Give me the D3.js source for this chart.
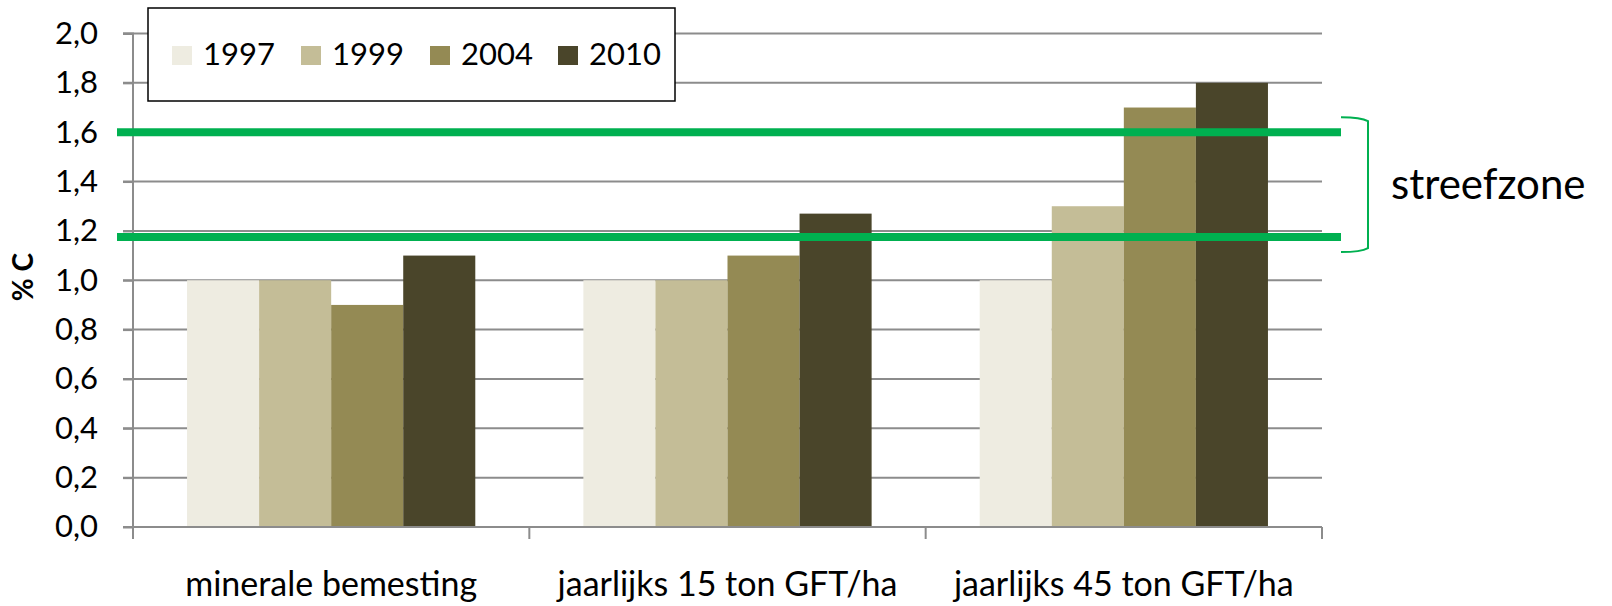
<!DOCTYPE html>
<html>
<head>
<meta charset="utf-8">
<script src="https://cdn.jsdelivr.net/npm/d3@7"></script>
<style>
  body { margin: 0; background: #fff; }
  text { font-family: Lato, "Open Sans", sans-serif; fill: #000; }
</style>
</head>
<body>
<div id="chart"></div>
<script>
// data
var categories = ['minerale bemesting', 'jaarlijks 15 ton GFT/ha', 'jaarlijks 45 ton GFT/ha'];
var years = ['1997', '1999', '2004', '2010'];
var v1997 = [1.0, 1.0, 1.0];
var v1999 = [1.0, 1.0, 1.3];
var v2004 = [0.9, 1.1, 1.7];
var v2010 = [1.1, 1.27, 1.8];
var yTicks = [0, 0.2, 0.4, 0.6, 0.8, 1.0, 1.2, 1.4, 1.6, 1.8, 2.0];
var zoneLow = 1.175, zoneHigh = 1.6;
var colors = ['#eeece1', '#c4bd97', '#948a54', '#4a452a'];

var series = [v1997, v1999, v2004, v2010];
var rows = [];
categories.forEach(function(c, i) {
    years.forEach(function(yr, j) {
        rows.push({cat: c, year: yr, value: series[j][i]});
    });
});

var svg = d3.select('#chart').append('svg')
    .attr('width', 1612)
    .attr('height', 606);

var x = d3.scaleBand().domain(categories).range([133, 1322]);
var xs = d3.scaleBand().domain(years).range([0, x.bandwidth()]).paddingOuter(0.75);
var y = d3.scaleLinear().domain([0, 2]).range([527, 33.5]);
var color = d3.scaleOrdinal().domain(years).range(colors);

// gridlines
svg.append('g')
    .selectAll('line')
    .data(yTicks.filter(function(d) { return d > 0; }))
    .enter().append('line')
    .attr('x1', 123).attr('x2', 1322)
    .attr('y1', function(d) { return y(d); })
    .attr('y2', function(d) { return y(d); })
    .attr('stroke', '#8c8c8c')
    .attr('stroke-width', 2);

// bars
svg.append('g')
    .selectAll('rect')
    .data(rows)
    .enter().append('rect')
    .attr('x', function(d) { return x(d.cat) + xs(d.year); })
    .attr('width', xs.bandwidth())
    .attr('y', function(d) { return y(d.value); })
    .attr('height', function(d) { return y(0) - y(d.value); })
    .attr('fill', function(d) { return color(d.year); });

// y axis
var yAxis = d3.axisLeft(y)
    .tickValues(yTicks)
    .tickSize(10)
    .tickPadding(25)
    .tickFormat(function(d) { return d3.format('.1f')(d).replace('.', ','); });
var gy = svg.append('g').attr('transform', 'translate(133,0)').call(yAxis);
gy.select('.domain').attr('stroke', '#8c8c8c').attr('stroke-width', 2)
    .attr('d', 'M-10,33.5H0V539');
gy.selectAll('.tick line').attr('stroke', '#8c8c8c').attr('stroke-width', 2);
gy.selectAll('.tick text').style('font-size', '31px').attr('fill', '#000')
    .style('font-family', 'Lato, sans-serif');

// x axis
var xAxis = d3.axisBottom(x).tickSize(0).tickPadding(45);
var gx = svg.append('g').attr('transform', 'translate(0,527)').call(xAxis);
gx.select('.domain').attr('stroke', '#8c8c8c').attr('stroke-width', 2)
    .attr('d', 'M123,0H1322');
gx.selectAll('.tick text').style('font-size', '34px').attr('fill', '#000')
    .style('font-family', 'Lato, sans-serif');
// category separators
gx.append('g').selectAll('line')
    .data(categories.map(function(c) { return x(c); }).concat([x.range()[1]]))
    .enter().append('line')
    .attr('x1', function(d) { return d; }).attr('x2', function(d) { return d; })
    .attr('y1', 0).attr('y2', 12)
    .attr('stroke', '#8c8c8c').attr('stroke-width', 2);

// axis title
svg.append('text')
    .attr('transform', 'translate(33,277) rotate(-90)')
    .attr('text-anchor', 'middle')
    .style('font-size', '28px')
    .style('font-weight', 'bold')
    .text('% C');

// streefzone lines
svg.append('g').selectAll('line')
    .data([zoneHigh, zoneLow])
    .enter().append('line')
    .attr('x1', 117).attr('x2', 1341)
    .attr('y1', function(d) { return y(d); })
    .attr('y2', function(d) { return y(d); })
    .attr('stroke', '#00b050')
    .attr('stroke-width', 8);

// bracket
var bt = y(zoneHigh) - 15, bb = y(zoneLow) + 15;
svg.append('path')
    .attr('d', 'M1341,' + bt + ' Q1361,' + bt + ' 1368,' + (bt + 4) + ' L1368,' + (bb - 4) +
        ' Q1361,' + bb + ' 1341,' + bb)
    .attr('fill', 'none')
    .attr('stroke', '#00b050')
    .attr('stroke-width', 2);

svg.append('text')
    .attr('x', 1391).attr('y', 199)
    .style('font-size', '42px')
    .text('streefzone');

// legend
var legend = svg.append('g');
legend.append('rect')
    .attr('x', 148).attr('y', 8).attr('width', 527).attr('height', 93)
    .attr('fill', '#fff').attr('stroke', '#000').attr('stroke-width', 1.5);
var legX = [172, 301, 430, 558];
var item = legend.selectAll('g.item')
    .data(years)
    .enter().append('g')
    .attr('transform', function(d, i) { return 'translate(' + legX[i] + ',0)'; });
item.append('rect')
    .attr('x', 0).attr('y', 46).attr('width', 20).attr('height', 19)
    .attr('fill', function(d) { return color(d); });
item.append('text')
    .attr('x', 31).attr('y', 65)
    .style('font-size', '31px')
    .text(function(d) { return d; });
</script>
</body>
</html>
